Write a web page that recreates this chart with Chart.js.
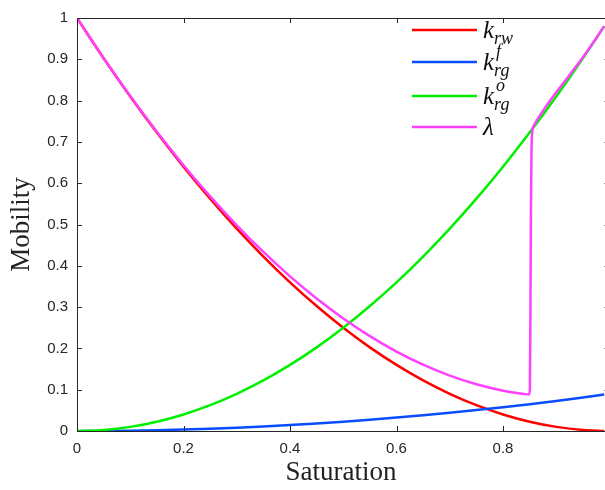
<!DOCTYPE html>
<html>
<head>
<meta charset="utf-8">
<script src="https://cdn.jsdelivr.net/npm/chart.js@4.4.1/dist/chart.umd.min.js"></script>
<style>
html,body{margin:0;padding:0;background:#fff;}
#wrap{width:605px;height:490px;}
</style>
</head>
<body>
<div id="wrap"><canvas id="c" width="605" height="490"></canvas></div>
<script>
// Saturation sample points
const sat   = [0,0.05,0.1,0.15,0.2,0.25,0.3,0.35,0.4,0.45,0.5,0.55,0.6,0.65,0.7,0.75,0.8,0.85,0.9,0.95,0.99];
const krw   = [1,0.9025,0.81,0.7225,0.64,0.5625,0.49,0.4225,0.36,0.3025,0.25,0.2025,0.16,0.1225,0.09,0.0625,0.04,0.0225,0.01,0.0025,0.0001];
const krgF  = [0,0.0002,0.0009,0.002,0.0036,0.0056,0.0081,0.011,0.0144,0.0182,0.0225,0.0272,0.0324,0.038,0.0441,0.0506,0.0576,0.065,0.0729,0.0812,0.0882];
const krgO  = [0,0.0025,0.01,0.0225,0.04,0.0625,0.09,0.1225,0.16,0.2025,0.25,0.3025,0.36,0.4225,0.49,0.5625,0.64,0.7225,0.81,0.9025,0.9801];
const lamSat = [0,0.05,0.1,0.15,0.2,0.25,0.3,0.35,0.4,0.45,0.5,0.55,0.6,0.65,0.7,0.75,0.8,0.84,0.8485,0.8505,0.8515,0.8525,0.8535,0.855,0.858,0.865,0.875,0.9,0.925,0.95,0.975,0.99];
const lamVal = [1,0.9027,0.8109,0.7245,0.6436,0.5681,0.4981,0.4335,0.3744,0.3207,0.2725,0.2297,0.1924,0.1605,0.1341,0.1131,0.0976,0.0895,0.0885,0.1,0.3,0.55,0.68,0.725,0.74,0.755,0.775,0.82,0.862,0.905,0.951,0.98];

const xTicks = [0,0.2,0.4,0.6,0.8];
const yTicks = [0,0.1,0.2,0.3,0.4,0.5,0.6,0.7,0.8,0.9,1];
const xTickLabels = ['0','0.2','0.4','0.6','0.8'];
const yTickLabels = ['0','0.1','0.2','0.3','0.4','0.5','0.6','0.7','0.8','0.9','1'];

const colors = {red:'#ff0000', blue:'#0a4cff', green:'#00f000', mag:'#ff40ff'};

const pts = (xs, ys) => xs.map((x,i)=>({x:x,y:ys[i]}));

const axisColor = '#262626';

const framePlugin = {
  id:'frame',
  afterDraw(chart){
    const ctx = chart.ctx, a = chart.chartArea;
    const xs = chart.scales.x, ys = chart.scales.y;
    const xRight = xs.getPixelForValue(1);
    ctx.save();
    ctx.strokeStyle = axisColor;
    ctx.lineWidth = 1;
    ctx.beginPath();
    ctx.moveTo(a.left+0.5, a.top+0.5); ctx.lineTo(a.left+0.5, a.bottom+0.5);
    ctx.moveTo(a.left, a.bottom+0.5); ctx.lineTo(a.right, a.bottom+0.5);
    ctx.moveTo(a.left, a.top+0.5); ctx.lineTo(a.right, a.top+0.5);
    ctx.moveTo(xRight-0.5, a.top); ctx.lineTo(xRight-0.5, a.bottom);
    const L = 5;
    xTicks.forEach(v=>{
      const p = Math.round(xs.getPixelForValue(v))+0.5;
      ctx.moveTo(p, a.bottom); ctx.lineTo(p, a.bottom-L);
      ctx.moveTo(p, a.top); ctx.lineTo(p, a.top+L);
    });
    yTicks.forEach(v=>{
      const p = Math.round(ys.getPixelForValue(v))+0.5;
      ctx.moveTo(a.left, p); ctx.lineTo(a.left+L, p);
      ctx.moveTo(xRight, p); ctx.lineTo(xRight-L, p);
    });
    ctx.stroke();

    // legend
    const items = [
      {c:colors.red,  main:'k', sub:'rw', sup:''},
      {c:colors.blue, main:'k', sub:'rg', sup:'f'},
      {c:colors.green,main:'k', sub:'rg', sup:'o'},
      {c:colors.mag,  main:'\u03BB', sub:'', sup:''}
    ];
    const ly = [30, 62, 96, 127];
    items.forEach((it,i)=>{
      const y = ly[i];
      ctx.strokeStyle = it.c; ctx.lineWidth = 2.5;
      ctx.beginPath(); ctx.moveTo(412, y); ctx.lineTo(477, y); ctx.stroke();
      ctx.fillStyle = '#111';
      ctx.textBaseline = 'alphabetic';
      ctx.textAlign = 'left';
      ctx.font = 'italic 25px "Liberation Serif", "DejaVu Serif", serif';
      ctx.fillText(it.main, 483, y+8);
      const w = ctx.measureText(it.main).width;
      ctx.font = 'italic 18px "Liberation Serif", "DejaVu Serif", serif';
      if (it.sub) ctx.fillText(it.sub, 483+w, y+14);
      if (it.sup) ctx.fillText(it.sup, 483+w+2, y-5);
    });
    ctx.restore();
  }
};

const ds = (label, data, color, order) => ({
  label, data, borderColor: color, backgroundColor: color, borderWidth: 2.5,
  pointRadius: 0, fill:false, cubicInterpolationMode:'monotone', order
});

new Chart(document.getElementById('c'), {
  type:'line',
  data:{
    datasets:[
      ds('k_rw', pts(sat, krw), colors.red, 3),
      ds('k_rg^f', pts(sat, krgF), colors.blue, 2),
      ds('k_rg^o', pts(sat, krgO), colors.green, 1),
      ds('lambda', pts(lamSat, lamVal), colors.mag, 0)
    ]
  },
  options:{
    responsive:false,
    animation:false,
    layout:{padding:{top:15, right:0, left:0, bottom:0}},
    plugins:{legend:{display:false}, tooltip:{enabled:false}},
    scales:{
      x:{
        type:'linear', min:0, max:0.9915,
        grid:{display:false, drawTicks:false},
        border:{display:false},
        afterBuildTicks(s){ s.ticks = xTicks.map(v=>({value:v})); },
        afterFit(s){ s.height = 59; },
        ticks:{
          maxRotation:0, padding:9, color:axisColor,
          font:{family:'"Liberation Sans", Arial, sans-serif', size:15},
          callback(v){ const i = xTicks.indexOf(v); return i>=0 ? xTickLabels[i] : ''; }
        },
        title:{display:true, text:'Saturation', color:'#222',
          font:{family:'"Liberation Serif", "DejaVu Serif", serif', size:27}, padding:{top:0,bottom:1}}
      },
      y:{
        type:'linear', min:0, max:1,
        grid:{display:false, drawTicks:false},
        border:{display:false},
        afterBuildTicks(s){ s.ticks = yTicks.map(v=>({value:v})); },
        afterFit(s){ s.width = 77; },
        ticks:{
          padding:9, color:axisColor,
          font:{family:'"Liberation Sans", Arial, sans-serif', size:15},
          callback(v){ const i = yTicks.indexOf(v); return i>=0 ? yTickLabels[i] : ''; }
        },
        title:{display:true, text:'Mobility', color:'#222',
          font:{family:'"Liberation Serif", "DejaVu Serif", serif', size:27}, padding:{top:6,bottom:0}}
      }
    }
  },
  plugins:[framePlugin]
});
</script>
</body>
</html>
